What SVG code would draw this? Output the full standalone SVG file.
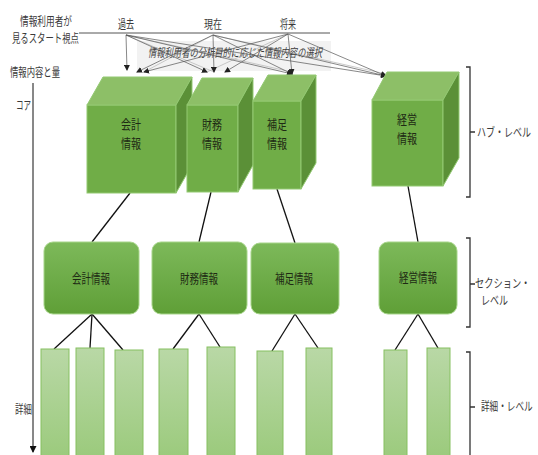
<svg xmlns="http://www.w3.org/2000/svg" width="538" height="455" viewBox="0 0 538 455">
<style>
.t{font-family:"Noto Sans CJK JP","Noto Sans",sans-serif;font-size:12px;fill:#3a3a3a}
.n{font-family:"Noto Sans CJK JP","Noto Sans",sans-serif;font-size:13px;fill:#1e2a14}
.front{fill:#70ad47;stroke:#93c972;stroke-width:1}
.top{fill:#8dbf67;stroke:#93c972;stroke-width:1}
.side{fill:#5b9037;stroke:#93c972;stroke-width:1}
.sec{fill:url(#gSec);stroke:#a7d58a;stroke-width:1}
.bar{fill:url(#gBar);stroke:#86c060;stroke-width:1}
.c{stroke:#111;stroke-width:1.3;fill:none}
.fan{stroke:#555;stroke-width:0.7;fill:none;marker-end:url(#ah)}
.fan2{stroke:#aaa;stroke-width:0.6;fill:none}
.br{stroke:#333;stroke-width:1.3;fill:none}
</style>
<defs>
<linearGradient id="gSec" x1="0" y1="0" x2="0" y2="1">
<stop offset="0" stop-color="#7db95a"/><stop offset="1" stop-color="#5f9f37"/>
</linearGradient>
<linearGradient id="gBar" x1="0" y1="0" x2="0" y2="1">
<stop offset="0" stop-color="#b9d8a6"/><stop offset="1" stop-color="#9bca7c"/>
</linearGradient>
<marker id="ah" markerWidth="6" markerHeight="6" refX="5" refY="3" orient="auto" markerUnits="userSpaceOnUse">
<path d="M0,0 L6,3 L0,6 z" fill="#222"/>
</marker>
<marker id="axh" markerWidth="7" markerHeight="7" refX="6" refY="3.5" orient="auto" markerUnits="userSpaceOnUse">
<path d="M0,0 L7,3.5 L0,7 z" fill="#111"/>
</marker>
</defs>

<g id="labels">
<text class="t" x="20" y="26" textLength="52" lengthAdjust="spacingAndGlyphs">情報利用者が</text>
<text class="t" x="12" y="43" textLength="67" lengthAdjust="spacingAndGlyphs">見るスタート視点</text>
<text class="t" x="118" y="29" textLength="16" lengthAdjust="spacingAndGlyphs">過去</text>
<text class="t" x="204" y="29" textLength="18" lengthAdjust="spacingAndGlyphs">現在</text>
<text class="t" x="280" y="29" textLength="16" lengthAdjust="spacingAndGlyphs">将来</text>
<text class="t" x="10" y="77" textLength="50" lengthAdjust="spacingAndGlyphs">情報内容と量</text>
<text class="t" x="16" y="110" textLength="15" lengthAdjust="spacingAndGlyphs">コア</text>
<text class="t" x="15" y="414" textLength="17" lengthAdjust="spacingAndGlyphs">詳細</text>
<text class="t" transform="translate(477,137) scale(0.75,1)">ハブ・レベル</text>
<text class="t" transform="translate(475,288) scale(0.77,1)">セクション・</text>
<text class="t" transform="translate(481,305) scale(0.75,1)">レベル</text>
<text class="t" transform="translate(481,411) scale(0.72,1)">詳細・レベル</text>
</g>

<g id="selection">
<rect x="137" y="41" width="194" height="30" fill="#f2f2f2"/>
<text class="t" x="148" y="57" textLength="174" lengthAdjust="spacingAndGlyphs" font-style="italic" style="font-size:12px">情報利用者の分析目的に応じた情報内容の選択</text>
</g>

<g id="connectors">
<line x1="79" y1="33" x2="330" y2="33" stroke="#555" stroke-width="1"/>
<line x1="33" y1="83" x2="33" y2="452" stroke="#111" stroke-width="1" marker-end="url(#axh)"/>
<line class="fan2" x1="126" y1="35" x2="214" y2="72"/>
<line class="fan2" x1="213" y1="35" x2="144" y2="72"/>
<line class="fan2" x1="288" y1="34" x2="207" y2="72"/>
<line class="fan2" x1="126" y1="35" x2="292" y2="72"/>
<line class="fan2" x1="213" y1="35" x2="386" y2="74"/>
<line class="fan" x1="126" y1="35" x2="127" y2="70"/>
<line class="fan" x1="126" y1="35" x2="207" y2="72"/>
<line class="fan" x1="126" y1="35" x2="292" y2="74"/>
<line class="fan" x1="126" y1="35" x2="386" y2="76"/>
<line class="fan" x1="213" y1="35" x2="137" y2="72"/>
<line class="fan" x1="213" y1="35" x2="214" y2="72"/>
<line class="fan" x1="213" y1="35" x2="292" y2="74"/>
<line class="fan" x1="213" y1="35" x2="386" y2="76"/>
<line class="fan" x1="288" y1="34" x2="144" y2="72"/>
<line class="fan" x1="288" y1="34" x2="225" y2="72"/>
<line class="fan" x1="288" y1="34" x2="292" y2="74"/>
<line class="fan" x1="288" y1="34" x2="386" y2="76"/>
<line class="c" x1="130" y1="193" x2="92" y2="242"/>
<line class="c" x1="211" y1="192" x2="199" y2="242"/>
<line class="c" x1="277" y1="189" x2="295" y2="243"/>
<line class="c" x1="408" y1="186" x2="418" y2="242"/>
<line class="c" x1="92" y1="314" x2="54" y2="349"/>
<line class="c" x1="92" y1="314" x2="90" y2="348"/>
<line class="c" x1="92" y1="314" x2="123" y2="350"/>
<line class="c" x1="199" y1="314" x2="173" y2="349"/>
<line class="c" x1="199" y1="314" x2="220" y2="347"/>
<line class="c" x1="295" y1="314" x2="272" y2="351"/>
<line class="c" x1="295" y1="314" x2="318" y2="348"/>
<line class="c" x1="418" y1="314" x2="395" y2="350"/>
<line class="c" x1="418" y1="314" x2="438" y2="348"/>
<path class="br" d="M466,67 H470 V197 H466 M470,132 H475"/>
<path class="br" d="M466,238 H470 V327 H466 M470,284 H475"/>
<path class="br" d="M466,352 H470 V456 M470,407 H475"/>
</g>

<g id="hub-kaikei">
<rect class="front" x="87" y="105" width="89" height="88"/>
<polygon class="top" points="87,105 103,77 192,77 176,105"/>
<polygon class="side" points="176,105 192,77 192,165 176,193"/>
<text class="n" x="121" y="129" textLength="20" lengthAdjust="spacingAndGlyphs">会計</text>
<text class="n" x="121" y="148" textLength="20" lengthAdjust="spacingAndGlyphs">情報</text>
</g>
<g id="hub-zaimu">
<rect class="front" x="187" y="105" width="51" height="87"/>
<polygon class="top" points="187,105 202,78 253,78 238,105"/>
<polygon class="side" points="238,105 253,78 253,165 238,192"/>
<text class="n" x="202" y="129" textLength="20" lengthAdjust="spacingAndGlyphs">財務</text>
<text class="n" x="202" y="148" textLength="20" lengthAdjust="spacingAndGlyphs">情報</text>
</g>
<g id="hub-hosoku">
<rect class="front" x="253" y="101" width="48" height="88"/>
<polygon class="top" points="253,101 268,75 316,75 301,101"/>
<polygon class="side" points="301,101 316,75 316,163 301,189"/>
<text class="n" x="267" y="129" textLength="20" lengthAdjust="spacingAndGlyphs">補足</text>
<text class="n" x="267" y="148" textLength="20" lengthAdjust="spacingAndGlyphs">情報</text>
</g>
<g id="hub-keiei">
<rect class="front" x="372" y="100" width="71" height="86"/>
<polygon class="top" points="372,100 387,72 459,72 443,100"/>
<polygon class="side" points="443,100 459,72 459,158 443,186"/>
<text class="n" x="397" y="124" textLength="20" lengthAdjust="spacingAndGlyphs">経営</text>
<text class="n" x="397" y="143" textLength="20" lengthAdjust="spacingAndGlyphs">情報</text>
</g>

<g id="sec-kaikei">
<rect class="sec" x="44" y="242" width="95" height="72" rx="9"/>
<text class="n" x="72" y="283" textLength="38" lengthAdjust="spacingAndGlyphs">会計情報</text>
</g>
<g id="sec-zaimu">
<rect class="sec" x="152" y="242" width="95" height="72" rx="9"/>
<text class="n" x="180" y="283" textLength="38" lengthAdjust="spacingAndGlyphs">財務情報</text>
</g>
<g id="sec-hosoku">
<rect class="sec" x="251" y="243" width="88" height="71" rx="9"/>
<text class="n" x="275" y="283" textLength="38" lengthAdjust="spacingAndGlyphs">補足情報</text>
</g>
<g id="sec-keiei">
<rect class="sec" x="379" y="242" width="78" height="72" rx="9"/>
<text class="n" x="399" y="282" textLength="38" lengthAdjust="spacingAndGlyphs">経営情報</text>
</g>

<g id="detail-1"><rect class="bar" x="41" y="349" width="28" height="110"/></g>
<g id="detail-2"><rect class="bar" x="76" y="348" width="28" height="110"/></g>
<g id="detail-3"><rect class="bar" x="115" y="350" width="28" height="110"/></g>
<g id="detail-4"><rect class="bar" x="159" y="349" width="29" height="110"/></g>
<g id="detail-5"><rect class="bar" x="207" y="347" width="28" height="110"/></g>
<g id="detail-6"><rect class="bar" x="257" y="351" width="26" height="110"/></g>
<g id="detail-7"><rect class="bar" x="306" y="348" width="26" height="110"/></g>
<g id="detail-8"><rect class="bar" x="384" y="350" width="23" height="110"/></g>
<g id="detail-9"><rect class="bar" x="427" y="348" width="23" height="110"/></g>
</svg>
